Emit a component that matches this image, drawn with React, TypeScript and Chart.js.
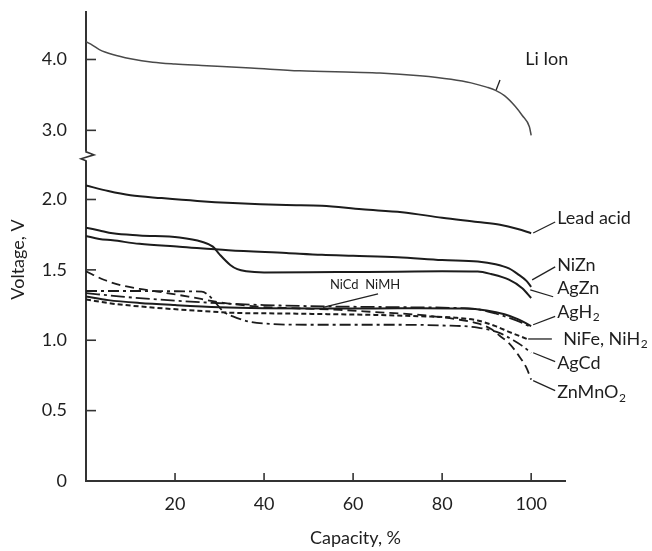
import React, { useEffect, useRef } from 'react';
import { Chart, registerables } from 'chart.js';

Chart.register(...registerables);

// ---------- tick labels ----------
const xTicks = [20, 40, 60, 80, 100];
const yLowTicks = [0, 0.5, 1.0, 1.5, 2.0];
const yLowLabels = ['0', '0.5', '1.0', '1.5', '2.0'];
const yHighTicks = [3.0, 4.0];
const yHighLabels = ['3.0', '4.0'];

// ---------- series (capacity %, voltage V) ----------
const liIonCap = [0, 1.5, 3, 6, 10, 15, 20, 26, 37, 48, 60, 66, 75, 82, 86.5, 90, 92, 94, 96.4, 98, 99.6, 100];
const liIonV = [4.25, 4.2, 4.14, 4.07, 4.01, 3.96, 3.935, 3.915, 3.88, 3.84, 3.82, 3.81, 3.77, 3.72, 3.67, 3.61, 3.565, 3.49, 3.34, 3.21, 3.05, 2.93];

const leadCap = [0, 5, 10, 17, 25, 33, 45, 53, 62, 71, 80, 88, 93, 97, 100];
const leadV = [2.1, 2.06, 2.03, 2.01, 1.99, 1.975, 1.96, 1.955, 1.93, 1.91, 1.87, 1.84, 1.82, 1.79, 1.76];

const niZnCap = [0, 3, 6, 12, 21, 32, 45, 53, 60, 70, 80, 88, 92, 95, 97, 99, 100];
const niZnV = [1.74, 1.72, 1.71, 1.685, 1.665, 1.64, 1.62, 1.607, 1.6, 1.59, 1.57, 1.56, 1.54, 1.51, 1.47, 1.42, 1.38];

const agZnCap = [0, 3, 6, 12, 21, 26, 28.5, 30, 32.4, 34, 36, 40, 50, 60, 70, 80, 88, 91, 95, 98, 100];
const agZnV = [1.8, 1.78, 1.76, 1.745, 1.73, 1.7, 1.665, 1.61, 1.535, 1.505, 1.49, 1.482, 1.483, 1.485, 1.487, 1.49, 1.488, 1.47, 1.43, 1.37, 1.3];

const agH2Cap = [0, 8, 16, 27, 40, 55, 70, 82, 88, 92, 95, 97.5, 99.5];
const agH2V = [1.335, 1.31, 1.29, 1.268, 1.25, 1.24, 1.235, 1.23, 1.22, 1.19, 1.16, 1.13, 1.1];

const niCdCap = [0, 5, 12, 20, 30, 40, 53, 65, 75, 85, 90, 94, 97, 100];
const niCdV = [1.31, 1.285, 1.265, 1.25, 1.235, 1.228, 1.225, 1.225, 1.228, 1.226, 1.212, 1.185, 1.15, 1.1];

const niFeCap = [0, 6, 14, 25, 33, 45, 55, 65, 75, 83, 88, 92, 95, 99];
const niFeV = [1.29, 1.26, 1.235, 1.21, 1.195, 1.19, 1.185, 1.18, 1.17, 1.16, 1.14, 1.1, 1.06, 1.01];

const agCdCap = [0, 10, 20, 26, 27.5, 29, 31, 33, 37, 42, 50, 60, 70, 80, 88, 93, 96, 98, 100];
const agCdV = [1.35, 1.35, 1.348, 1.345, 1.32, 1.27, 1.2, 1.17, 1.13, 1.115, 1.11, 1.11, 1.11, 1.105, 1.09, 1.05, 1.0, 0.96, 0.91];

const znMnCap = [0, 4, 8, 12, 16, 23, 30, 38, 46, 57, 65, 75, 83, 88, 91, 93, 95, 97, 99, 100];
const znMnV = [1.49, 1.43, 1.39, 1.365, 1.346, 1.31, 1.27, 1.24, 1.228, 1.216, 1.2, 1.18, 1.15, 1.12, 1.08, 1.03, 0.98, 0.9, 0.8, 0.72];

// ---------- annotation labels (text, leader lines) ----------
const labelTexts = ['Li Ion', 'Lead acid', 'NiZn', 'AgZn', 'AgH|2', 'NiFe, NiH|2', 'AgCd', 'ZnMnO|2', 'NiCd  NiMH'];
const labelAxis = ['y2', 'y', 'y', 'y', 'y', 'y', 'y', 'y', 'y'];
const labelCap = [98.65, 105.84, 105.84, 105.84, 105.84, 107.2, 105.84, 105.84, 54.8];
const labelV = [4.007, 1.869, 1.535, 1.372, 1.202, 1.011, 0.84, 0.628, 1.394];
const leadFromCap = [93.0, 105.39, 105.39, 104.94, 105.39, 104.65, 105.39, 105.39, 65.6];
const leadFromV = [3.711, 1.84, 1.521, 1.309, 1.169, 1.009, 0.848, 0.642, 1.33];
const leadToCap = [92.13, 100.45, 100.22, 99.8, 100.45, 99.33, 100.45, 100.45, 53.26];
const leadToV = [3.57, 1.762, 1.429, 1.358, 1.11, 1.009, 0.911, 0.713, 1.233];

const pts = (xs: number[], ys: number[]) => xs.map((x, i) => ({ x, y: ys[i] }));

const FONT = 'Lato, "Open Sans", sans-serif';
const INK = '#1e1e1e';

export default function App() {
  const ref = useRef<HTMLCanvasElement | null>(null);

  useEffect(() => {
    if (!ref.current) return;

    const decor = {
      id: 'decor',
      afterDraw(chart: any) {
        const ctx: CanvasRenderingContext2D = chart.ctx;
        const sx = chart.scales.x;
        const sy = chart.scales.y;
        const sy2 = chart.scales.y2;
        const ca = chart.chartArea;
        ctx.save();
        ctx.strokeStyle = '#333';
        ctx.lineWidth = 1.6;
        const line = (a: number, b: number, c: number, d: number) => {
          ctx.beginPath();
          ctx.moveTo(a, b);
          ctx.lineTo(c, d);
          ctx.stroke();
        };
        // inward tick marks
        yLowTicks.forEach((t) => {
          if (t === 0) return;
          const py = sy.getPixelForValue(t);
          line(ca.left, py, ca.left + 10, py);
        });
        yHighTicks.forEach((t) => {
          const py = sy2.getPixelForValue(t);
          line(ca.left, py, ca.left + 10, py);
        });
        xTicks.forEach((t) => {
          const px = sx.getPixelForValue(t);
          line(px, ca.bottom, px, ca.bottom - 8);
        });
        // axis break
        const by = sy.top;
        ctx.fillStyle = '#fff';
        ctx.fillRect(ca.left - 3, by - 5, 6, 10);
        ctx.beginPath();
        ctx.moveTo(ca.left, by - 6);
        ctx.lineTo(ca.left, by - 4);
        ctx.lineTo(ca.left + 8, by - 1);
        ctx.lineTo(ca.left - 5, by + 3);
        ctx.lineTo(ca.left, by + 5);
        ctx.lineTo(ca.left, by + 7);
        ctx.stroke();

        // annotations
        ctx.lineWidth = 1.3;
        ctx.strokeStyle = '#222';
        ctx.fillStyle = INK;
        ctx.textBaseline = 'middle';
        ctx.textAlign = 'left';
        labelTexts.forEach((txt, i) => {
          const ys = labelAxis[i] === 'y2' ? sy2 : sy;
          line(
            sx.getPixelForValue(leadFromCap[i]),
            ys.getPixelForValue(leadFromV[i]),
            sx.getPixelForValue(leadToCap[i]),
            ys.getPixelForValue(leadToV[i])
          );
          const size = i === 8 ? 13 : 18;
          let px = sx.getPixelForValue(labelCap[i]);
          const py = ys.getPixelForValue(labelV[i]);
          const parts = txt.split('|');
          ctx.font = `${size}px ${FONT}`;
          ctx.fillText(parts[0], px, py);
          if (parts[1]) {
            px += ctx.measureText(parts[0]).width;
            ctx.font = `${Math.round(size * 0.68)}px ${FONT}`;
            ctx.fillText(parts[1], px + 0.5, py + size * 0.3);
          }
        });

        // axis titles
        ctx.font = `18px ${FONT}`;
        ctx.textAlign = 'center';
        ctx.fillText('Capacity, %', (ca.left + ca.right) / 2 + 30, ca.bottom + 57);
        ctx.save();
        ctx.translate(18, (ca.top + ca.bottom) / 2 + 13);
        ctx.rotate(-Math.PI / 2);
        ctx.fillText('Voltage, V', 0, 0);
        ctx.restore();
        ctx.restore();
      },
    };

    const mk = (label: string, xs: number[], ys: number[], axis: string, width: number, color: string, dash: number[]) => ({
      label,
      data: pts(xs, ys),
      yAxisID: axis,
      borderColor: color,
      borderWidth: width,
      borderDash: dash,
      pointRadius: 0,
      fill: false,
      cubicInterpolationMode: 'monotone' as const,
    });

    const tickFont = { family: FONT, size: 18 };
    const fitY = (s: any) => {
      s.width = 86;
      s.paddingTop = 0;
      s.paddingBottom = 0;
    };

    const chart = new Chart(ref.current, {
      type: 'line',
      data: {
        datasets: [
          mk('Li Ion', liIonCap, liIonV, 'y2', 1.5, '#4a4a4a', []),
          mk('Lead acid', leadCap, leadV, 'y', 2, '#1c1c1c', []),
          mk('NiZn', niZnCap, niZnV, 'y', 2, '#1c1c1c', []),
          mk('AgZn', agZnCap, agZnV, 'y', 2, '#1c1c1c', []),
          mk('AgH2', agH2Cap, agH2V, 'y', 1.8, '#1c1c1c', [14, 4, 3, 4]),
          mk('NiCd NiMH', niCdCap, niCdV, 'y', 2, '#1c1c1c', []),
          mk('NiFe, NiH2', niFeCap, niFeV, 'y', 2, '#1c1c1c', [5, 3]),
          mk('AgCd', agCdCap, agCdV, 'y', 1.8, '#1c1c1c', [11, 4, 3, 4]),
          mk('ZnMnO2', znMnCap, znMnV, 'y', 1.8, '#1c1c1c', [9, 5]),
        ],
      },
      options: {
        animation: false,
        responsive: false,
        devicePixelRatio: 1,
        layout: { padding: { top: 12, right: 87, bottom: 0, left: 0 } },
        plugins: { legend: { display: false }, tooltip: { enabled: false } },
        scales: {
          x: {
            type: 'linear',
            min: 0,
            max: 107.6,
            grid: { display: false },
            border: { color: '#333', width: 2 },
            afterFit: (s: any) => {
              s.height = 70;
              s.paddingLeft = 0;
              s.paddingRight = 0;
            },
            afterBuildTicks: (s: any) => {
              s.ticks = xTicks.map((v) => ({ value: v }));
            },
            ticks: { font: tickFont, color: INK, padding: 4, maxRotation: 0, autoSkip: false },
          },
          y: {
            type: 'linear',
            position: 'left',
            stack: 'v',
            stackWeight: 325.7,
            min: 0,
            max: 2.31,
            grid: { display: false },
            border: { color: '#333', width: 2 },
            afterFit: fitY,
            afterBuildTicks: (s: any) => {
              s.ticks = yLowTicks.map((v) => ({ value: v }));
            },
            ticks: {
              font: tickFont,
              color: INK,
              padding: 11,
              callback: (v: any) => {
                const i = yLowTicks.indexOf(Number(v));
                return i >= 0 ? yLowLabels[i] : '';
              },
            },
          },
          y2: {
            type: 'linear',
            position: 'left',
            stack: 'v',
            stackWeight: 144.1,
            min: 2.64,
            max: 4.67,
            grid: { display: false },
            border: { color: '#333', width: 2 },
            afterFit: fitY,
            afterBuildTicks: (s: any) => {
              s.ticks = yHighTicks.map((v) => ({ value: v }));
            },
            ticks: {
              font: tickFont,
              color: INK,
              padding: 11,
              callback: (v: any) => {
                const i = yHighTicks.indexOf(Number(v));
                return i >= 0 ? yHighLabels[i] : '';
              },
            },
          },
        },
      },
      plugins: [decor],
    } as any);

    return () => chart.destroy();
  }, []);

  return (
    <div style={{ position: 'absolute', left: 0, top: 0, width: 652, height: 551, background: '#fff' }}>
      <canvas ref={ref} width={652} height={551} style={{ display: 'block', width: 652, height: 551 }} />
    </div>
  );
}
